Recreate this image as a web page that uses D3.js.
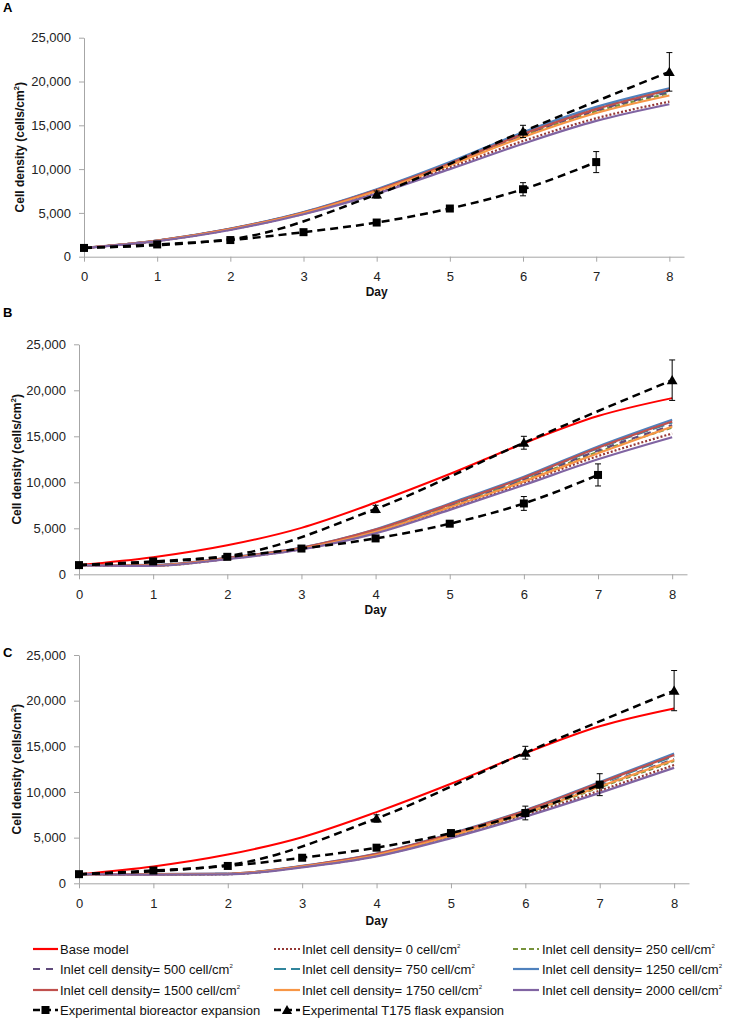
<!DOCTYPE html>
<html lang="en">
<head>
<meta charset="UTF-8">
<title>Cell density vs day</title>
<script src="https://d3js.org/d3.v7.min.js"></script>
<style>
  body { margin: 0; background: #fff; }
  svg { display: block; font-family: "Liberation Sans", Arial, sans-serif; }
  .axis path, .axis line { stroke: #a6a6a6; }
  .axis text { font-size: 13px; fill: #222; font-family: "Liberation Sans", Arial, sans-serif; }
  .title { font-size: 12px; font-weight: bold; fill: #111; }
  .legend text { font-size: 13px; fill: #111; }
</style>
</head>
<body>
<div id="chart"></div>
<script>
// data
const days = [0, 1, 2, 3, 4, 5, 6, 7, 8];
const yTicks = [0, 5000, 10000, 15000, 20000, 25000];

const baseModel = [1000, 1850, 3150, 5050, 7800, 10900, 14250, 17200, 19150];

// inlet series, order: 0, 250, 500, 750, 1250, 1500, 1750, 2000 cell/cm2
const inletA = [
  [1000, 1800, 3100, 4900, 7350, 10200, 13200, 15800, 17700],
  [1000, 1820, 3150, 5000, 7550, 10550, 13800, 16600, 18650],
  [1000, 1830, 3160, 5020, 7600, 10600, 13900, 16700, 18800],
  [1000, 1840, 3180, 5060, 7650, 10700, 14050, 16900, 18950],
  [1000, 1850, 3200, 5100, 7700, 10800, 14200, 17100, 19220],
  [1000, 1840, 3180, 5050, 7620, 10650, 14000, 16850, 19030],
  [1000, 1820, 3130, 4980, 7500, 10450, 13650, 16400, 18400],
  [1000, 1780, 3050, 4850, 7200, 10000, 12900, 15500, 17400]
];
const inletB = [
  [1000, 940, 1680, 2740, 4550, 7150, 9950, 12850, 15300],
  [1000, 960, 1720, 2800, 4680, 7380, 10200, 13300, 15950],
  [1000, 970, 1740, 2830, 4750, 7450, 10300, 13450, 16200],
  [1000, 990, 1770, 2860, 4820, 7580, 10450, 13700, 16500],
  [1000, 1020, 1800, 2900, 4900, 7700, 10600, 13900, 16800],
  [1000, 1000, 1780, 2870, 4850, 7600, 10500, 13750, 16600],
  [1000, 950, 1700, 2780, 4620, 7280, 10100, 13150, 16050],
  [1000, 920, 1650, 2700, 4450, 7000, 9700, 12500, 14900]
];
const inletC = [
  [1000, 960, 1000, 1780, 3000, 5050, 7450, 10150, 12950],
  [1000, 970, 1010, 1820, 3080, 5180, 7650, 10500, 13400],
  [1000, 975, 1020, 1840, 3120, 5250, 7750, 10650, 13600],
  [1000, 990, 1040, 1870, 3200, 5380, 7900, 10900, 13950],
  [1000, 1000, 1050, 1900, 3250, 5450, 8000, 11100, 14200],
  [1000, 995, 1040, 1880, 3220, 5400, 7950, 11000, 14050],
  [1000, 980, 1020, 1830, 3100, 5200, 7700, 10600, 13500],
  [1000, 950, 980, 1750, 2950, 4950, 7300, 9900, 12650]
];

const bioDays = [0, 1, 2, 3, 4, 5, 6, 7];
const bioMean = [1000, 1400, 1900, 2800, 3900, 5500, 7700, 10800];
const bioErr = [0, 100, 150, 200, 250, 300, 750, 1200];

const flaskDays = [0, 2, 4, 6, 8];
const flaskMean = [1000, 2000, 7100, 14300, 21100];
const flaskErr = [0, 150, 400, 700, 2200];

const inletLabels = ["0", "250", "500", "750", "1250", "1500", "1750", "2000"];
const inletColors = ["#953735", "#77933c", "#604a7b", "#31859c", "#4f81bd", "#c0504d", "#f79646", "#8064a2"];
const inletDash = ["2,2", "5,3", "7,6", "12,5", null, null, null, null];

const panels = [
  { name: "A", inlet: inletA, base: false, xr: [84, 684], yr: [256.7, 37.7], tag: 12, titleX: 20, dayY: 296 },
  { name: "B", inlet: inletB, base: true, xr: [79, 687], yr: [574.3, 344.3], tag: 317, titleX: 17, dayY: 614 },
  { name: "C", inlet: inletC, base: true, xr: [79, 689], yr: [883.3, 655], tag: 657, titleX: 17, dayY: 925 }
];

const svg = d3.select("#chart").append("svg")
  .attr("width", 733)
  .attr("height", 1026);

panels.forEach(p => {
  const x = d3.scaleLinear().domain([0, 8.2]).range(p.xr);
  const y = d3.scaleLinear().domain([0, 25000]).range(p.yr);
  const g = svg.append("g");

  // axes
  g.append("g")
    .attr("class", "axis")
    .attr("transform", `translate(0,${p.yr[0]})`)
    .call(d3.axisBottom(x).tickValues(days).tickSize(5).tickSizeOuter(0).tickPadding(10).tickFormat(d3.format("d")));
  g.append("g")
    .attr("class", "axis")
    .attr("transform", `translate(${p.xr[0]},0)`)
    .call(d3.axisLeft(y).tickValues(yTicks).tickSize(5).tickSizeOuter(0).tickPadding(8).tickFormat(d3.format(",")));

  // panel letter
  svg.append("text").attr("x", 3).attr("y", p.tag)
    .attr("font-size", 13).attr("font-weight", "bold").text(p.name);

  // axis titles
  svg.append("text").attr("class", "title")
    .attr("x", (p.xr[0] + x(8)) / 2).attr("y", p.dayY)
    .attr("text-anchor", "middle").text("Day");
  const yt = svg.append("text").attr("class", "title")
    .attr("transform", `translate(${p.titleX + 4},${(p.yr[0] + p.yr[1]) / 2}) rotate(-90)`)
    .attr("text-anchor", "middle");
  yt.append("tspan").text("Cell density (cells/cm");
  yt.append("tspan").attr("font-size", 8).attr("dy", -5).text("2");
  yt.append("tspan").attr("dy", 5).text(")");

  const line = d3.line().x((d, i) => x(days[i])).y(d => y(d)).curve(d3.curveMonotoneX);

  if (p.base) {
    g.append("path").datum(baseModel)
      .attr("d", line).attr("fill", "none")
      .attr("stroke", "#ff0000").attr("stroke-width", 2);
  }
  p.inlet.forEach((s, k) => {
    g.append("path").datum(s)
      .attr("d", line).attr("fill", "none")
      .attr("stroke", inletColors[k]).attr("stroke-width", 2.2)
      .attr("stroke-dasharray", inletDash[k]);
  });

  // experimental series
  const expLine = d3.line().x(d => x(d[0])).y(d => y(d[1])).curve(d3.curveMonotoneX);
  const bio = bioDays.map((d, i) => [d, bioMean[i], bioErr[i]]);
  const flask = flaskDays.map((d, i) => [d, flaskMean[i], flaskErr[i]]);

  [bio, flask].forEach(data => {
    g.append("path").datum(data)
      .attr("d", expLine).attr("fill", "none")
      .attr("stroke", "#000").attr("stroke-width", 2.5)
      .attr("stroke-dasharray", "8,5");
    const eb = g.selectAll(null).data(data.filter(d => d[2] > 0)).enter().append("g");
    eb.append("line")
      .attr("x1", d => x(d[0])).attr("x2", d => x(d[0]))
      .attr("y1", d => y(d[1] - d[2])).attr("y2", d => y(d[1] + d[2]))
      .attr("stroke", "#000").attr("stroke-width", 1);
    [-1, 1].forEach(sg => {
      eb.append("line")
        .attr("x1", d => x(d[0]) - 3).attr("x2", d => x(d[0]) + 3)
        .attr("y1", d => y(d[1] + sg * d[2])).attr("y2", d => y(d[1] + sg * d[2]))
        .attr("stroke", "#000").attr("stroke-width", 1);
    });
  });

  g.selectAll(null).data(bio).enter().append("rect")
    .attr("x", d => x(d[0]) - 4).attr("y", d => y(d[1]) - 4)
    .attr("width", 8).attr("height", 8).attr("fill", "#000");
  g.selectAll(null).data(flask.filter(d => d[0] > 2)).enter().append("path")
    .attr("d", d3.symbol(d3.symbolTriangle, 50))
    .attr("transform", d => `translate(${x(d[0])},${y(d[1]) + 1})`)
    .attr("fill", "#000");
});

// legend
const legendRows = [949, 969, 990, 1010];
const legendCols = [{ x1: 33, x2: 58, tx: 60 }, { x1: 274, x2: 300, tx: 302 }, { x1: 513, x2: 539, tx: 542 }];
const legendItems = [{ label: "Base model", color: "#ff0000", dash: null }];
inletLabels.forEach((l, k) => legendItems.push({ label: `Inlet cell density= ${l} cell/cm`, sup: true, color: inletColors[k], dash: inletDash[k] }));
legendItems.push({ label: "Experimental bioreactor expansion", color: "#000", dash: "7,4", marker: "square" });
legendItems.push({ label: "Experimental T175 flask expansion", color: "#000", dash: "7,4", marker: "triangle" });

const lg = svg.append("g").attr("class", "legend");
legendItems.forEach((it, i) => {
  const c = legendCols[i % 3], yy = legendRows[Math.floor(i / 3)];
  lg.append("line").attr("x1", c.x1).attr("x2", c.x2).attr("y1", yy).attr("y2", yy)
    .attr("stroke", it.color).attr("stroke-width", it.marker ? 2.5 : 2.2)
    .attr("stroke-dasharray", it.dash);
  const mx = (c.x1 + c.x2) / 2;
  if (it.marker === "square") {
    lg.append("rect").attr("x", mx - 4).attr("y", yy - 4).attr("width", 8).attr("height", 8).attr("fill", "#000");
  } else if (it.marker === "triangle") {
    lg.append("path").attr("d", d3.symbol(d3.symbolTriangle, 45)).attr("transform", `translate(${mx},${yy + 1})`).attr("fill", "#000");
  }
  const t = lg.append("text").attr("x", c.tx).attr("y", yy + 4.5).text(it.label);
  if (it.sup) t.append("tspan").attr("font-size", 6).attr("dy", -6).text("2");
});
</script>
</body>
</html>
